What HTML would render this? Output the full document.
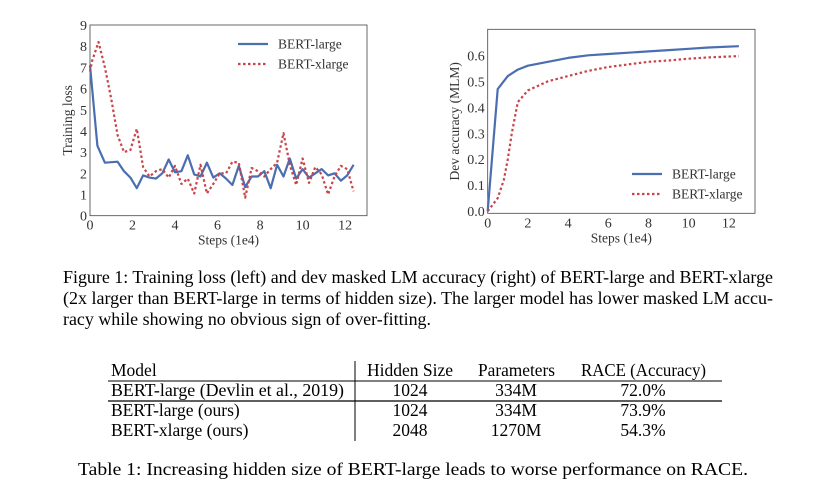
<!DOCTYPE html>
<html><head><meta charset="utf-8"><style>
body{margin:0;background:#fff;}
svg{display:block;font-family:"Liberation Serif",serif;}
</style></head><body>
<svg id="s" width="829" height="496" viewBox="0 0 829 496" xmlns="http://www.w3.org/2000/svg">
<g id="left"></g>
<g id="right"></g>
<g font-size="18" fill="#000">
<text x="63" y="283" textLength="710" lengthAdjust="spacingAndGlyphs">Figure 1: Training loss (left) and dev masked LM accuracy (right) of BERT-large and BERT-xlarge</text>
<text x="63" y="304" textLength="710" lengthAdjust="spacingAndGlyphs">(2x larger than BERT-large in terms of hidden size). The larger model has lower masked LM accu-</text>
<text x="63" y="325" textLength="368" lengthAdjust="spacingAndGlyphs">racy while showing no obvious sign of over-fitting.</text>
</g>
<g font-size="17.5" fill="#000">
<line x1="108" y1="381" x2="722" y2="381" stroke="#000" stroke-width="1"/>
<line x1="108" y1="401" x2="722" y2="401" stroke="#000" stroke-width="1.3"/>
<line x1="355" y1="361" x2="355" y2="441" stroke="#000" stroke-width="1"/>
<text x="111" y="376">Model</text>
<text x="367" y="376" textLength="86" lengthAdjust="spacingAndGlyphs">Hidden Size</text>
<text x="478" y="376" textLength="77" lengthAdjust="spacingAndGlyphs">Parameters</text>
<text x="581" y="376" textLength="125" lengthAdjust="spacingAndGlyphs">RACE (Accuracy)</text>
<text x="111" y="396" textLength="233" lengthAdjust="spacingAndGlyphs">BERT-large (Devlin et al., 2019)</text>
<text x="111" y="416">BERT-large (ours)</text>
<text x="111" y="436">BERT-xlarge (ours)</text>
<g text-anchor="middle">
<text x="410" y="396">1024</text><text x="516" y="396">334M</text><text x="643" y="396">72.0%</text>
<text x="410" y="416">1024</text><text x="516" y="416">334M</text><text x="643" y="416">73.9%</text>
<text x="410" y="436">2048</text><text x="516" y="436">1270M</text><text x="643" y="436">54.3%</text>
</g>
</g>
<text x="78" y="475" font-size="18" textLength="670" lengthAdjust="spacingAndGlyphs">Table 1: Increasing hidden size of BERT-large leads to worse performance on RACE.</text>
</svg>
<script>
const lossX = [0,0.35,0.7,1.3,1.6,1.9,2.2,2.5,2.8,3.1,3.4,3.7,4.0,4.3,4.6,4.9,5.2,5.5,5.8,6.1,6.4,6.7,7.0,7.3,7.6,7.9,8.2,8.5,8.8,9.1,9.4,9.7,10.0,10.3,10.6,10.9,11.2,11.5,11.8,12.1,12.4];
const lossLarge = [7.1,3.3,2.5,2.55,2.1,1.8,1.3,1.9,1.8,1.75,2.0,2.65,2.05,2.1,2.85,1.95,1.85,2.5,1.8,2.0,1.75,1.45,2.35,1.35,1.85,1.85,2.1,1.3,2.4,1.85,2.7,1.75,2.2,1.8,2.0,2.2,1.9,2.0,1.65,1.9,2.4];
const lossXlX = [0,0.1,0.4,0.7,1.0,1.3,1.6,1.9,2.2,2.5,2.8,3.1,3.4,3.7,4.0,4.3,4.6,4.9,5.2,5.5,5.8,6.1,6.4,6.7,7.0,7.3,7.6,7.9,8.2,8.5,8.8,9.1,9.4,9.7,10.0,10.3,10.6,10.9,11.2,11.5,11.8,12.1,12.4];
const lossXlarge = [6.8,7.3,8.2,7.0,5.5,3.8,3.0,3.1,4.1,2.3,1.85,2.1,2.2,1.8,2.35,1.5,1.75,1.05,2.4,1.05,1.5,2.0,2.0,2.55,2.5,0.85,2.25,2.1,1.85,2.2,2.5,3.9,2.4,1.45,2.7,1.55,2.3,1.95,1.0,1.85,2.35,2.2,1.15];
const lossYTicks = [0,1,2,3,4,5,6,7,8,9];
const xTicks = [0,2,4,6,8,10,12];
const accLX = [0,0.5,1,1.5,2,3,4,5,6,7,8,9,10,11,12.5];
const accLarge = [0,0.47,0.52,0.545,0.56,0.575,0.59,0.6,0.605,0.61,0.615,0.62,0.625,0.63,0.635];
const accXX = [0,0.5,0.8,1.0,1.2,1.5,2,3,4,5,6,7,8,9,10,11,12.5];
const accXlarge = [0,0.05,0.12,0.2,0.3,0.42,0.465,0.5,0.52,0.54,0.555,0.565,0.575,0.58,0.587,0.592,0.597];
const accYTicks = [0,0.1,0.2,0.3,0.4,0.5,0.6];
const NS="http://www.w3.org/2000/svg";
function mk(p,t,a){const e=document.createElementNS(NS,t);for(const k in a)e.setAttribute(k,a[k]);p.appendChild(e);return e;}
function chart(g,o){
  const sx=v=>o.x0+(v-o.xmin)*(o.x1-o.x0)/(o.xmax-o.xmin);
  const sy=v=>o.y0-(v-o.ymin)*(o.y0-o.y1)/(o.ymax-o.ymin);
  const r=mk(g,'rect',{x:o.x0,y:o.y1,width:o.x1-o.x0,height:o.y0-o.y1,fill:'none',stroke:'#444','stroke-width':0.8});
  
  
  xTicks.forEach(t=>{const e=mk(g,'text',{x:sx(t),y:o.y0+14,'text-anchor':'middle','font-size':14,fill:'#333'});e.textContent=t;
    
    });
  o.yt.forEach(t=>{const e=mk(g,'text',{x:o.x0-3,y:sy(t)+5,'text-anchor':'end','font-size':14,fill:'#333'});e.textContent=o.fmt(t);
    
    });
  const xl=mk(g,'text',{x:(o.x0+o.x1)/2,y:o.y0+29,'text-anchor':'middle','font-size':13.5,fill:'#333'});xl.textContent='Steps (1e4)';
  
  
  const yl=mk(g,'text',{transform:`translate(${o.ylx},${(o.y0+o.y1)/2}) rotate(-90)`,'text-anchor':'middle','font-size':13.5,fill:'#333'});yl.textContent=o.ylab;
  
  
  o.series.forEach(s=>{
    const d=s.x.map((x,i)=>(i?'L':'M')+sx(x).toFixed(1)+','+sy(s.y[i]).toFixed(1)).join('');
    const p=mk(g,'path',{d:d,fill:'none',stroke:s.c,'stroke-width':2.2,'stroke-dasharray':s.dash||'none','stroke-linejoin':'round'});
    
    
  });
  o.series.forEach((s,i)=>{
    const ly=o.legY+i*20;
    const l=mk(g,'line',{x1:o.legX,y1:ly,x2:o.legX+30,y2:ly,stroke:s.c,'stroke-width':2.2,'stroke-dasharray':s.dash||'none'});
    
    
    const t=mk(g,'text',{x:o.legX+40,y:ly+4.5,'font-size':13.5,fill:'#333'});t.textContent=s.label;
    
    
  });
}
chart(document.getElementById('left'),{x0:90,x1:367,xmin:0,xmax:13.03,y0:215.7,y1:25,ymin:0,ymax:9,yt:lossYTicks,fmt:t=>t,ylab:'Training loss',ylx:72,legX:238,legY:44,
 series:[{x:lossX,y:lossLarge,c:'#4a6eb0',label:'BERT-large',name:'bert-large-loss-line'},{x:lossXlX,y:lossXlarge,c:'#c8444a',dash:'2.5,2.5',label:'BERT-xlarge',name:'bert-xlarge-loss-line'}]});
chart(document.getElementById('right'),{x0:487.7,x1:755,xmin:0,xmax:13.3,y0:213.3,y1:29.3,ymin:-0.008,ymax:0.7,yt:accYTicks,fmt:t=>t.toFixed(1),ylab:'Dev accuracy (MLM)',ylx:459,legX:632,legY:174,
 series:[{x:accLX,y:accLarge,c:'#4a6eb0',label:'BERT-large',name:'bert-large-acc-line'},{x:accXX,y:accXlarge,c:'#c8444a',dash:'2.5,2.5',label:'BERT-xlarge',name:'bert-xlarge-acc-line'}]});
</script>
</body></html>
